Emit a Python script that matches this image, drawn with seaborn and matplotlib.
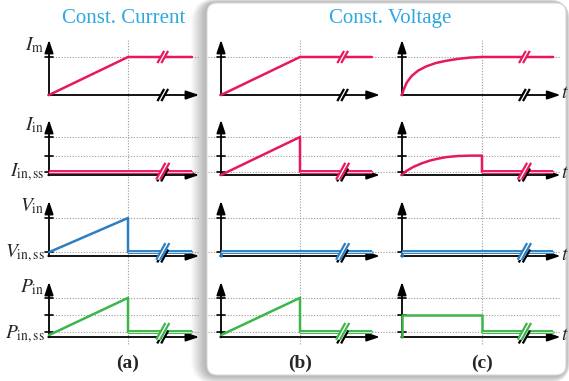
import numpy as np
import pandas as pd
import matplotlib
matplotlib.use("Agg")
import matplotlib.pyplot as plt
import seaborn as sns
from matplotlib.patches import FancyBboxPatch, Polygon
from matplotlib.transforms import blended_transform_factory as blend

sns.set_theme(style="white")
plt.rcParams["font.family"] = ["Liberation Serif", "DejaVu Serif"]
plt.rcParams["mathtext.fontset"] = "stix"

W, H = 569, 381
PINK, BLUE, GREEN = "#e8185e", "#2b7fc3", "#3cb54a"
PINK_L, BLUE_L, GREEN_L = "#f9c9d8", "#c4def2", "#cdeccf"
TITLE_C = "#2ea8e0"
DOT_C = "#9a9a9a"

# ---------------- texts ----------------
col_titles = ["Const. Current", "Const. Voltage"]
panel_tags = ["(a)", "(b)", "(c)"]
top_labels = [r"$I_{\rm m}$", r"$I_{\rm in}$", r"$V_{\rm in}$", r"$P_{\rm in}$"]
ss_labels = ["", r"$I_{\rm in,ss}$", r"$V_{\rm in,ss}$", r"$P_{\rm in,ss}$"]
time_label = r"$t$"

# ---------------- levels (normalised to the top level) ----------------
im_levels = [1.0]
iin_levels = [0.08, 0.51, 1.0]
vin_levels = [0.10, 1.0]
pin_levels = [0.13, 0.57, 1.03]
ss_levels = [None, 0.08, 0.10, 0.13]

# ---------------- waveforms (t = 1 is the switching instant) ----------------
im_a_t = [0, 1, 1, 1.81]
im_a = [0, 1, 1, 1]
im_b_t = [0, 1, 1, 1.91]
im_b = [0, 1, 1, 1]
im_c_t = [0, 0.02, 0.06, 0.12, 0.2, 0.3, 0.42, 0.55, 0.7, 0.85, 1.0, 1.89]
im_c = [0, 0.14, 0.33, 0.5, 0.64, 0.75, 0.84, 0.9, 0.95, 0.985, 1.0, 1.0]

iin_a_t = [0, 1.81]
iin_a = [0.08, 0.08]
iin_b_t = [0, 1, 1, 1.91]
iin_b = [0, 1, 0.08, 0.08]
iin_c_t = [0, 0.05, 0.14, 0.25, 0.35, 0.45, 0.55, 0.7, 0.85, 1, 1, 1.89]
iin_c = [0, 0.1, 0.21, 0.31, 0.38, 0.43, 0.47, 0.5, 0.51, 0.51, 0.08, 0.08]

vin_a_t = [0, 1, 1, 1.81]
vin_a = [0.10, 1.0, 0.10, 0.10]
vin_b_t = [0, 0, 1.91]
vin_b = [0, 0.10, 0.10]
vin_c_t = [0, 0, 1.89]
vin_c = [0, 0.10, 0.10]

pin_a_t = [0, 1, 1, 1.81]
pin_a = [0.05, 1.03, 0.13, 0.13]
pin_b_t = [0, 1, 1, 1.91]
pin_b = [0.05, 1.03, 0.13, 0.13]
pin_c_t = [0, 0, 1, 1, 1.89]
pin_c = [0, 0.57, 0.57, 0.13, 0.13]

waves = [
    [(im_a_t, im_a), (im_b_t, im_b), (im_c_t, im_c)],
    [(iin_a_t, iin_a), (iin_b_t, iin_b), (iin_c_t, iin_c)],
    [(vin_a_t, vin_a), (vin_b_t, vin_b), (vin_c_t, vin_c)],
    [(pin_a_t, pin_a), (pin_b_t, pin_b), (pin_c_t, pin_c)],
]
row_levels = [im_levels, iin_levels, vin_levels, pin_levels]
row_colors = [PINK, PINK, BLUE, GREEN]
row_light = [PINK_L, PINK_L, BLUE_L, GREEN_L]

# ---------------- layout (pixels) ----------------
col_x0 = [49, 221, 402]
col_ppu = [79, 79, 80]
col_arrow = [1.9, 2.01, 1.98]
col_break = [1.44, 1.54, 1.53]
row_base = [95, 175, 256, 337]
PPY = 38
Y_ARROW = 1.45
XL = (-0.25, 2.15)
YL = (-0.45, 1.6)

fig = plt.figure(figsize=(W / 100, H / 100), dpi=100)
bg = fig.add_axes([0, 0, 1, 1], zorder=0)
bg.set_xlim(0, W)
bg.set_ylim(H, 0)
bg.axis("off")

# shadowed rounded box behind columns (b) and (c)
bx0, by0, bx1, by1 = 207, 3, 566, 375
for i in range(16, 0, -1):
    bg.add_patch(FancyBboxPatch((bx0 - i, by0 - 0.3 * i), (bx1 - bx0) + 1.3 * i, (by1 - by0) + 0.9 * i,
                                boxstyle=f"round,pad=0,rounding_size={10 + i}",
                                fc="black", ec="none", alpha=0.018))
bg.add_patch(FancyBboxPatch((bx0, by0), bx1 - bx0, by1 - by0, boxstyle="round,pad=0,rounding_size=10",
                            fc="white", ec="#dadada", lw=0.8))

axes = []
for r in range(4):
    row = []
    for c in range(3):
        lpx = col_x0[c] + XL[0] * col_ppu[c]
        wpx = (XL[1] - XL[0]) * col_ppu[c]
        tpx = row_base[r] - YL[1] * PPY
        hpx = (YL[1] - YL[0]) * PPY
        ax = fig.add_axes([lpx / W, 1 - (tpx + hpx) / H, wpx / W, hpx / H], zorder=1)
        ax.patch.set_alpha(0)
        row.append(ax)
    axes.append(row)

dot_kw = dict(color=DOT_C, lw=0.8, ls=(0, (1, 1.5)), clip_on=False, zorder=1)

# vertical dotted guides at t = 1
for c in range(3):
    ax = axes[0][c]
    ax.plot([1, 1], [40, 345], transform=blend(ax.transData, bg.transData), **dot_kw)

# horizontal dotted guides
for r in range(4):
    ax = axes[r][0]
    tr = blend(bg.transData, ax.transData)
    for lev in row_levels[r]:
        ax.plot([50, 200], [lev, lev], transform=tr, **dot_kw)
        ax.plot([208, 560], [lev, lev], transform=tr, **dot_kw)


def draw_break(ax, t, yc, hh, color, z):
    s = 0.04 * hh / 0.15
    g = 0.05
    xa = [t - g / 2 - s, t - g / 2 + s]
    xb = [t + g / 2 - s, t + g / 2 + s]
    ys = [yc - hh, yc + hh]
    ax.add_patch(Polygon([(xa[0], ys[0]), (xa[1], ys[1]), (xb[1], ys[1]), (xb[0], ys[0])],
                         closed=True, fc="white", ec="none", zorder=z))
    ax.plot(xa, ys, color=color, lw=1.6, zorder=z + 0.1, solid_capstyle="butt")
    ax.plot(xb, ys, color=color, lw=1.6, zorder=z + 0.1, solid_capstyle="butt")


arrow_kw = dict(arrowstyle="-|>,head_length=0.65,head_width=0.22", color="black", lw=1.3,
                mutation_scale=12, shrinkA=0, shrinkB=0)

for r in range(4):
    for c in range(3):
        ax = axes[r][c]
        ax.annotate("", xy=(0, Y_ARROW), xytext=(0, -0.01), arrowprops=arrow_kw, zorder=2)
        ax.annotate("", xy=(col_arrow[c], 0), xytext=(-0.01, 0), arrowprops=arrow_kw, zorder=2)
        for lev in row_levels[r]:
            ax.plot([-0.055, 0.055], [lev, lev], color="black", lw=1.2, zorder=2)
        t, v = waves[r][c]
        df = pd.DataFrame({"t": t, "v": v})
        sns.lineplot(data=df, x="t", y="v", ax=ax, color=row_colors[r], lw=1.8,
                     sort=False, estimator=None, zorder=3)
        ss = ss_levels[r]
        if ss is not None:
            i0 = len(v) - 1
            while i0 > 0 and v[i0 - 1] == ss:
                i0 -= 1
            seg_t = [t[i0], t[-1]]
            ax.plot(seg_t, [ss, ss], color=row_colors[r], lw=2.8, zorder=3.2, solid_capstyle="butt")
            ax.plot(seg_t, [ss, ss], color=row_light[r], lw=0.8, zorder=3.3, solid_capstyle="butt")
            draw_break(ax, col_break[c], 0, 0.17, "black", 4)
            draw_break(ax, col_break[c], ss + 0.02, 0.22, row_colors[r], 4.5)
        else:
            draw_break(ax, col_break[c], 0, 0.16, "black", 4)
            draw_break(ax, col_break[c], v[-1], 0.16, row_colors[r], 4.5)
        ax.set_xlim(*XL)
        ax.set_ylim(*YL)
        ax.axis("off")

# labels
for r in range(4):
    bg.text(44, row_base[r] - 45, top_labels[r], ha="right", va="baseline", fontsize=14,
            math_fontfamily="stix")
    if ss_labels[r]:
        bg.text(45, row_base[r] + 1.5, ss_labels[r], ha="right", va="baseline", fontsize=14,
                math_fontfamily="stix")
    if True:
        bg.text(565, row_base[r] - 1, time_label, ha="center", va="center", fontsize=14,
                math_fontfamily="stix")

bg.text(124, 23, col_titles[0], ha="center", va="baseline", fontsize=15, color=TITLE_C,
        family="Liberation Serif")
bg.text(390, 23, col_titles[1], ha="center", va="baseline", fontsize=15, color=TITLE_C,
        family="Liberation Serif")
for c in range(3):
    bg.text(col_x0[c] + col_ppu[c], 368, panel_tags[c], ha="center", va="baseline",
            fontsize=14, fontweight="bold", family="Liberation Serif")

fig.savefig("out.png", dpi=100)
